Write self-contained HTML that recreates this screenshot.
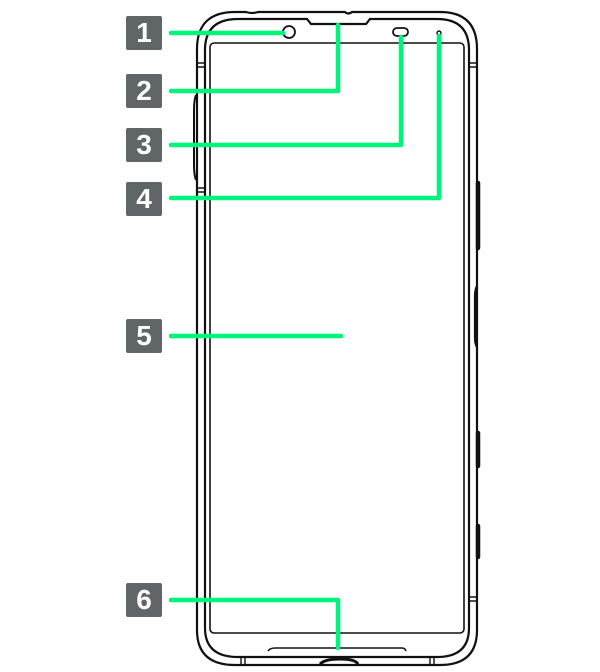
<!DOCTYPE html>
<html><head><style>
body{margin:0;background:#fff;width:600px;height:672px;overflow:hidden}
.b{position:absolute;left:126px;width:36px;height:34px;background:#606668;color:#fff;font:bold 28px "Liberation Sans",sans-serif;text-align:center;line-height:34px;border-radius:2px}
</style></head><body>
<svg width="600" height="672" style="position:absolute;left:0;top:0" fill="none" stroke="#111" stroke-width="2.2">
<path d="M232 12 H477 A0 0 0 0 1 477 12" stroke="none"/>
<!-- outer body -->
<path d="M235 12 H246 Q252 14 258 12 H345 Q348 15 352 12 H440 Q477 12 477 49 V630 Q477 665 440 665 H235 Q197 665 197 630 V49 Q197 12 235 12 Z"/>
<!-- inner bezel -->
<path d="M238 19 H307 L311 24 H366 L370 19 H437 Q469 19 469 50 V628 Q469 657 437 657 H238 Q205 657 205 628 V50 Q205 19 238 19 Z"/>
<!-- screen -->
<rect x="210" y="43" width="254" height="590" rx="4" stroke-width="1.6"/>
<!-- camera, receiver, sensor -->
<circle cx="289" cy="32" r="6" stroke-width="1.8"/>
<rect x="393" y="28" width="15" height="8" rx="4" stroke-width="1.8"/>
<circle cx="439" cy="33" r="2" stroke-width="1.4"/>
<!-- bottom bar -->
<path d="M268 651 Q270 648 275 648 H402 Q405 648 406 651" stroke-width="1.6"/>
<path d="M320 664 Q325 659 340 659 Q355 659 358 664" stroke-width="3"/>
<path d="M241 657 V665 M245 657 V665 M430 657 V665 M434 657 V665" stroke-width="1.4"/>
<!-- side notches -->
<path d="M197 63 H205 M197 67 H205 M197 188 H205 M197 192 H205 M469 63 H477 M469 67 H477 M469 597 H477 M469 601 H477" stroke-width="1.4"/>
<!-- side buttons -->
<path d="M478 183 V248 M478 433 V466 M478 526 V557" stroke-width="4.5" stroke-linecap="round"/>
<path d="M477 286 Q475 290 475 296 V338 Q475 344 477 347" stroke-width="2.2"/>
<path d="M196 95 Q194 100 194 110 V165 Q194 175 196 180" stroke-width="2"/>
<!-- leaders -->
<g stroke="#00f47c" stroke-width="4.5" stroke-linecap="round" stroke-linejoin="round">
<path d="M171 33 H283"/>
<path d="M171 91 H338 V25"/>
<path d="M171 145 H401 V37"/>
<path d="M171 198 H439 V36"/>
<path d="M171 336 H341"/>
<path d="M171 600 H338 V648"/>
</g>
</svg>
<div class="b" style="top:16px">1</div>
<div class="b" style="top:74px">2</div>
<div class="b" style="top:128px">3</div>
<div class="b" style="top:182px">4</div>
<div class="b" style="top:319px">5</div>
<div class="b" style="top:583px">6</div>
</body></html>
